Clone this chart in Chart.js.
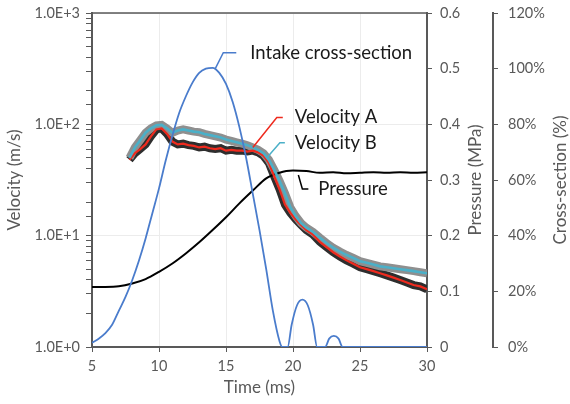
<!DOCTYPE html>
<html><head><meta charset="utf-8">
<script src="https://cdn.jsdelivr.net/npm/chart.js@4.4.1/dist/chart.umd.min.js"></script>
<style>html,body{margin:0;padding:0;background:#fff}#wrap{width:570px;height:404px;position:relative}</style>
</head><body><div id="wrap"><canvas id="c" width="570" height="404"></canvas></div>
<script>
// ---- data ----
const timeVelocity = [7.8,8.2,8.6,9.0,9.4,9.8,10.2,10.6,11.0,11.4,11.8,12.2,12.6,13.0,13.4,13.8,14.2,14.6,15.0,15.4,15.8,16.2,16.6,17.0,17.4,17.8,18.2,18.6,19.0,19.4,19.8,20.2,20.6,21.0,21.5,22.0,22.5,23.0,23.5,24.0,24.5,25.0,25.5,26.0,26.5,27.0,27.5,28.0,28.5,29.0,29.5,30.0];
const velocityA = [48,55,60,66,78,90,92,82,70,66,67,65,64,62,63,61,60,61,58,59,58,58,57,58,56,52,45,34,26,19,16,14,12.5,11.2,10.2,8.8,7.9,7.1,6.5,6.0,5.6,5.2,5.0,4.8,4.6,4.4,4.2,4.0,3.8,3.6,3.5,3.3];
const velocityB = [50,62,72,84,92,98,99,92,84,88,90,88,86,85,82,80,78,76,73,71,69,67,65,62,59,55,48,39,31,24,18,15,13,11.8,10.8,9.6,8.6,7.8,7.2,6.7,6.3,5.9,5.7,5.5,5.3,5.2,5.1,5.0,4.9,4.8,4.7,4.6];
const timePressure = [5,6,7,8,9,10,11,12,13,14,15,16,17,18,19,19.5,20,21,22,23,24,25,26,27,28,29,30];
const pressure = [0.108,0.108,0.109,0.114,0.122,0.135,0.150,0.168,0.188,0.210,0.233,0.258,0.281,0.303,0.313,0.316,0.317,0.316,0.313,0.314,0.312,0.313,0.314,0.313,0.314,0.313,0.314];
const timeIntake = [5.0,5.5,6.0,6.5,7.0,7.5,8.0,8.5,9.0,9.5,10.0,10.5,11.0,11.5,12.0,12.5,13.0,13.5,14.0,14.5,15.0,15.5,16.0,16.5,17.0,17.5,18.0,18.5,19.0,19.2,19.6,19.9,20.3,20.7,21.1,21.5,21.8,22.4,22.7,23.05,23.4,23.7,30];
const intakeCrossSection = [1.5,3,5,8,13,18,24,31,39,48,57,67,76,84,90,95,98.5,100,100.3,98.5,94.5,88,79,68,55,42,28,13,2,0,0,8,15,17,15,8,0,0,3,4,3,0,0];
const timeTicks = [5,10,15,20,25,30];
const velocityTickLabels = {1:'1.0E+0',10:'1.0E+1',100:'1.0E+2',1000:'1.0E+3'};
const pressureTicks = [0,0.1,0.2,0.3,0.4,0.5,0.6];
const sectionTicks = [0,20,40,60,80,100,120];

// ---- styling ----
const GREY = '#595959';
const FONT = 'Lato';
const BLUE = '#4a7ccc', RED = '#ee2a1e', CYAN = '#4bb0c8';
const pts = (xs, ys) => xs.map((x,i)=>({x, y: ys[i]}));

const annotations = [
  {text:'Intake cross-section', scale:'yC', t:14.2, v:100, dx1:8, dy1:-16, dx2:13, gap:14, color:BLUE},
  {text:'Velocity A', scale:'y', t:17.0, v:62, dx1:24, dy1:-30, dx2:6, gap:12, color:RED},
  {text:'Velocity B', scale:'y', t:18.05, v:50, dx1:13, dy1:-15, dx2:5, gap:10, color:CYAN},
  {text:'Pressure', scale:'yP', t:20.4, v:0.309, dx1:4, dy1:14, dx2:6, gap:10, color:'#000'}
];

const decorPlugin = {
  id:'decor',
  afterDraw(chart){
    const ctx = chart.ctx, a = chart.chartArea;
    ctx.save();
    ctx.strokeStyle = GREY; ctx.lineWidth = 1.5;
    ctx.beginPath(); ctx.moveTo(a.left, a.top); ctx.lineTo(a.right, a.top); ctx.stroke();
    ctx.font = '18.5px ' + FONT; ctx.textBaseline = 'middle'; ctx.textAlign = 'left';
    annotations.forEach(an=>{
      const x0 = chart.scales.x.getPixelForValue(an.t);
      const y0 = chart.scales[an.scale].getPixelForValue(an.v);
      const x1 = x0 + an.dx1, y1 = y0 + an.dy1, x2 = x1 + an.dx2;
      ctx.strokeStyle = an.color; ctx.lineWidth = 1.5;
      ctx.beginPath(); ctx.moveTo(x0,y0); ctx.lineTo(x1,y1); ctx.lineTo(x2,y1); ctx.stroke();
      ctx.fillStyle = '#1a1a1a';
      ctx.fillText(an.text, x2 + an.gap, y1);
    });
    ctx.fillStyle = GREY; ctx.font = '17px ' + FONT; ctx.textAlign = 'center';
    const cy = (a.top + a.bottom)/2;
    [['Velocity (m/s)',15],['Pressure (MPa)',476],['Cross-section (%)',561]].forEach(([t,x])=>{
      ctx.save(); ctx.translate(x, cy); ctx.rotate(-Math.PI/2); ctx.fillText(t,0,0); ctx.restore();
    });
    ctx.fillText('Time (ms)', (a.left+a.right)/2, 388);
    ctx.restore();
  }
};

const isDecade = v => Math.abs(Math.log10(v) - Math.round(Math.log10(v))) < 1e-9;
const tickFont = {family:FONT, size:14.5};
const fixV = w => s => { s.width = w; s.paddingTop = 0; s.paddingBottom = 0; };

new Chart(document.getElementById('c'), {
  type:'line',
  data:{datasets:[
    {label:'Intake cross-section', data:pts(timeIntake,intakeCrossSection), yAxisID:'yC', borderColor:BLUE, borderWidth:1.8, pointRadius:0, cubicInterpolationMode:'monotone', order:0},
    {label:'Velocity B', data:pts(timeVelocity,velocityB), yAxisID:'y', borderColor:CYAN, borderWidth:2.6, pointRadius:0, order:1},
    {label:'Velocity A', data:pts(timeVelocity,velocityA), yAxisID:'y', borderColor:RED, borderWidth:2.2, pointRadius:0, order:2},
    {label:'Pressure', data:pts(timePressure,pressure), yAxisID:'yP', borderColor:'#000', borderWidth:2, pointRadius:0, cubicInterpolationMode:'monotone', order:3},
    {label:'Velocity B error', data:pts(timeVelocity,velocityB), yAxisID:'y', borderColor:'#8f8f8f', borderWidth:8, pointRadius:0, order:4},
    {label:'Velocity A error', data:pts(timeVelocity,velocityA), yAxisID:'y', borderColor:'#2e2e2e', borderWidth:8, pointRadius:0, order:5}
  ]},
  options:{
    responsive:false, animation:false, devicePixelRatio:1,
    layout:{padding:{top:13, left:0, right:0, bottom:0}},
    plugins:{legend:{display:false}, tooltip:{enabled:false}},
    scales:{
      x:{type:'linear', position:'bottom', min:5, max:30,
        afterBuildTicks:s=>{s.ticks = timeTicks.map(v=>({value:v}));},
        ticks:{color:GREY, font:tickFont, padding:6, maxRotation:0},
        grid:{color:'#ececec', tickColor:GREY, tickLength:5},
        border:{color:GREY, width:2},
        afterFit:s=>{s.height = 57; s.paddingLeft = 0; s.paddingRight = 0;}},
      y:{type:'logarithmic', position:'left', min:1, max:1000,
        ticks:{autoSkip:false, color:GREY, font:tickFont, padding:6,
          callback:v=>velocityTickLabels[Math.round(v)] && isDecade(v) ? velocityTickLabels[Math.round(v)] : ''},
        grid:{color:c=>isDecade(c.tick.value)?'#ececec':'rgba(0,0,0,0)', tickColor:GREY, tickLength:6},
        border:{color:GREY, width:2},
        afterFit:fixV(92)},
      yP:{type:'linear', position:'right', min:0, max:0.6,
        afterBuildTicks:s=>{s.ticks = pressureTicks.map(v=>({value:v}));},
        ticks:{color:GREY, font:tickFont, padding:8, callback:v=>v===0?'0':v.toFixed(1)},
        grid:{drawOnChartArea:false, tickColor:GREY, tickLength:5},
        border:{color:GREY, width:2},
        afterFit:fixV(66)},
      yC:{type:'linear', position:'right', min:0, max:120,
        afterBuildTicks:s=>{s.ticks = sectionTicks.map(v=>({value:v}));},
        ticks:{color:GREY, font:tickFont, padding:10, callback:v=>v+'%'},
        grid:{drawOnChartArea:false, tickColor:GREY, tickLength:5},
        border:{color:GREY, width:2},
        afterFit:fixV(77)}
    }
  },
  plugins:[decorPlugin]
});
</script></body></html>
